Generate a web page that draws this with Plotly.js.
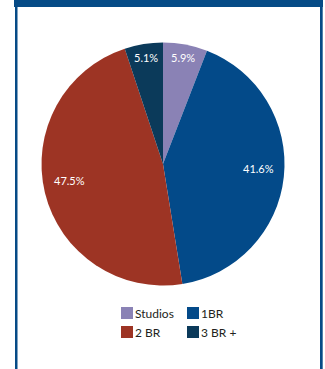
<!DOCTYPE html>
<html><head><meta charset="utf-8">
<script src="https://cdn.plot.ly/plotly-3.0.1.min.js"></script>
<style>html,body{margin:0;padding:0;background:#fff;overflow:hidden}#chart{width:325px;height:369px}</style>
</head><body><div id="chart"></div>
<script>
const categories = ['Studios', '1BR', '2 BR', '3 BR +'];
const shares = [5.9, 41.6, 47.5, 5.1];
const sliceColors = ['#8a82b5', '#034a89', '#9d3424', '#0b3a5a'];
const frameColor = '#064b86';

const W = 325, H = 369;
const px = x => x / W, py = y => 1 - y / H;

// pie geometry (pixels)
const pieLeft = 41.5, pieRight = 284.5, pieTop = 42.5, pieBottom = 285.5;
const cx = (pieLeft + pieRight) / 2, cy = (pieTop + pieBottom) / 2, R = (pieRight - pieLeft) / 2;

const trace = {
  type: 'pie', labels: categories, values: shares,
  textinfo: 'none',
  sort: false, direction: 'clockwise', rotation: 0,
  marker: {colors: sliceColors, line: {width: 0}},
  hoverinfo: 'label+percent',
  domain: {x: [px(pieLeft), px(pieRight)], y: [py(pieBottom), py(pieTop)]}
};

// slice labels placed at each slice's mid-angle
const total = shares.reduce((a, b) => a + b, 0);
let cum = 0;
const annotations = shares.map(v => {
  const mid = (cum + v / 2) / total * 2 * Math.PI;
  cum += v;
  const small = (v / total) < 0.1;
  const f = small ? 0.89 : 0.79;
  return {
    xref: 'paper', yref: 'paper', showarrow: false,
    x: px(cx + Math.sin(mid) * R * f), y: py(cy - Math.cos(mid) * R * f),
    xanchor: 'center', yanchor: 'middle', yshift: small ? 0 : 6,
    text: v.toFixed(1) + '%',
    font: {family: 'Lato', size: 11, color: '#ffffff'}
  };
});

const layout = {
  width: W, height: H, margin: {l: 0, r: 0, t: 0, b: 0, autoexpand: false},
  paper_bgcolor: '#ffffff', plot_bgcolor: '#ffffff',
  showlegend: true,
  legend: {orientation: 'h', x: px(107), xanchor: 'left', y: py(298.5), yanchor: 'top',
    entrywidth: 70, entrywidthmode: 'pixels', traceorder: 'normal',
    font: {family: 'Lato', size: 12, color: '#231f20'}, bgcolor: 'rgba(0,0,0,0)'},
  annotations: annotations,
  shapes: [
    {type: 'rect', xref: 'paper', yref: 'paper', x0: px(14), x1: px(323), y0: py(7), y1: 1, fillcolor: frameColor, line: {width: 0}},
    {type: 'rect', xref: 'paper', yref: 'paper', x0: px(15), x1: px(17.5), y0: 0, y1: 1, fillcolor: frameColor, line: {width: 0}},
    {type: 'rect', xref: 'paper', yref: 'paper', x0: px(320), x1: px(322.7), y0: 0, y1: 1, fillcolor: frameColor, line: {width: 0}}
  ]
};

Plotly.newPlot('chart', [trace], layout, {staticPlot: true, displayModeBar: false}).then(gd => {
  const items = gd.querySelectorAll('.legend .traces');
  items.forEach((el, i) => {
    const tr = el.getAttribute('transform') || '';
    const m = tr.match(/translate\(([-\d.]+)[ ,]+([-\d.]+)\)/);
    if (m && i % 2 === 1) {
      el.setAttribute('transform', 'translate(' + (parseFloat(m[1]) - 49) + ',' + m[2] + ')');
    }
    el.querySelectorAll('.legendtext').forEach(t => {
      t.setAttribute('x', 28);
      t.querySelectorAll('tspan[x]').forEach(s => s.setAttribute('x', 28));
    });
  });
});
</script>
</body></html>
